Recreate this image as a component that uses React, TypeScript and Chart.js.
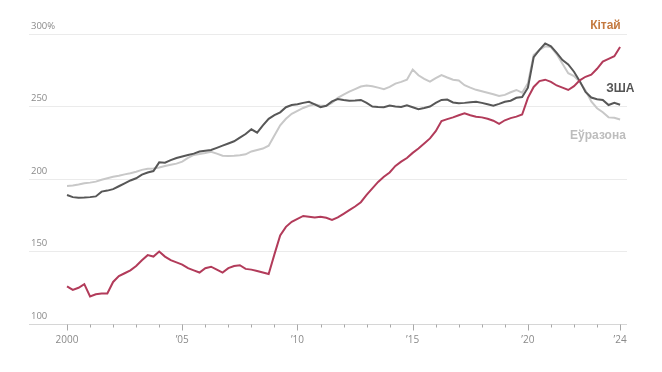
import React, { useEffect, useRef } from 'react';
import { Chart, registerables } from 'chart.js';

Chart.register(...registerables);

// Quarterly values, 2000 Q1 .. 2024 Q1 (debt, % of GDP)
const START_YEAR = 2000;
const QUARTER_STEP = 0.25;

const chinaDebt = [
  126, 123.5, 125, 127.5,
  119, 120.5, 121, 121,
  129, 133, 135, 137,
  140, 144, 147.5, 146.5,
  150, 146.5, 144, 142.5,
  141, 138.5, 137, 135.5,
  138.5, 139.5, 137.5, 135.5,
  138.5, 140, 140.5, 138,
  137.5, 136.5, 135.5, 134.5,
  148, 161, 167, 170.5,
  172.5, 174.5, 174, 173.5,
  174, 173.3, 171.8, 173.5,
  176, 178.5, 181, 184,
  189, 193.5, 198, 201.5,
  204.5, 209, 212, 214.5,
  218, 221, 224.5, 228,
  233, 240, 241.3, 242.5,
  244, 245.3, 244, 243,
  242.5, 241.5, 240.2, 238,
  240.5, 242, 243, 244.5,
  256, 263.5, 267.5, 268.5,
  267, 264.5, 263, 261.4,
  264, 268, 270.5, 272,
  276, 281, 282.8, 284.7,
  291,
];

const usDebt = [
  189, 187.5, 187, 187.2,
  187.5, 188, 191.3, 192,
  193, 195, 197, 199,
  200.5, 203, 204.5, 205.5,
  211.5, 211.2, 213, 214.5,
  215.5, 216.5, 217.5, 219,
  219.5, 220, 221.5, 223,
  224.5, 226, 228.5, 231,
  234.3, 232, 237, 241.5,
  244, 246, 249.5, 251,
  251.5, 252.5, 253.3, 251.5,
  249.5, 250.5, 253.5, 255.2,
  254.5, 254, 254.2, 254.5,
  252.5, 250, 249.7, 249.5,
  250.7, 250, 249.6, 250.8,
  249.5, 248.2, 249, 250,
  252.5, 254.5, 254.8, 252.8,
  252.2, 252.5, 253, 253.2,
  252.5, 251.5, 250.5, 251.8,
  253.3, 254, 256, 256.5,
  263, 284, 289, 293.5,
  291.5, 287, 282, 279,
  274, 267.5, 260, 256.2,
  255, 254.5, 251, 252.5,
  251.2,
];

const euroDebt = [
  195.2, 195.5, 196.2, 197,
  197.5, 198.2, 199.5, 200.5,
  201.5, 202.3, 203.2, 204,
  205, 206.3, 207, 207.3,
  208, 209, 209.8, 210.6,
  212, 214.5, 216.6, 217.3,
  218, 218.8, 217.5, 216,
  215.9, 216, 216.4, 217,
  219, 220, 221, 223,
  230, 237, 241.5, 245,
  247, 249, 250.5, 251.5,
  250.5, 250.5, 252.5, 256,
  258.2, 260.2, 262, 263.8,
  264.5, 264, 263, 262,
  263.5, 265.8, 267, 268.5,
  275.5, 271.5, 269, 267.1,
  269.5, 271.7, 270, 268.5,
  268, 264.7, 263, 261.5,
  260.5, 259.5, 258.5, 257.3,
  258, 259.8, 261.4, 259.5,
  266, 285.5, 289, 291.5,
  291, 286, 279.5, 273,
  271, 267, 261, 253.5,
  248.8, 246, 242.5, 242.2,
  241,
];

const yearTicks = [
  2000, 2001, 2002, 2003, 2004, 2005, 2006, 2007, 2008, 2009, 2010, 2011, 2012,
  2013, 2014, 2015, 2016, 2017, 2018, 2019, 2020, 2021, 2022, 2023, 2024,
];
const labeledYears = [2000, 2005, 2010, 2015, 2020, 2024];
const yearLabels = ['2000', '\u201905', '\u201910', '\u201915', '\u201920', '\u201924'];
const valueTicks = [100, 150, 200, 250, 300];

const seriesNames = ['Кітай', 'ЗША', 'Еўразона'];
const seriesColors = ['#b23b5a', '#575757', '#c8c8c8'];
const labelColors = ['#c47a40', '#555555', '#bdbdbd'];
const labelYears = [2022.7, 2023.4, 2021.83];
const labelValues = [306, 262.5, 230];

const toPoints = (arr: number[]) =>
  arr.map((v, i) => ({ x: START_YEAR + i * QUARTER_STEP, y: v }));

const decorPlugin = {
  id: 'decor',
  afterDraw(chart: any) {
    const { ctx, chartArea, scales } = chart;
    const xs = scales.x;
    const ys = scales.y;
    ctx.save();
    ctx.strokeStyle = '#d6d6d6';
    ctx.lineWidth = 1;
    const by = Math.round(chartArea.bottom) + 0.5;
    ctx.beginPath();
    ctx.moveTo(chartArea.left, by);
    ctx.lineTo(chartArea.right, by);
    ctx.stroke();
    ctx.strokeStyle = '#a8a8a8';
    yearTicks.forEach((yr) => {
      const px = Math.round(xs.getPixelForValue(yr)) + 0.5;
      const major = labeledYears.includes(yr);
      ctx.beginPath();
      ctx.moveTo(px, by);
      ctx.lineTo(px, by + (major ? 6 : 3));
      ctx.stroke();
    });
    ctx.font = 'bold 12px "Liberation Sans", Arial, sans-serif';
    ctx.textAlign = 'left';
    ctx.textBaseline = 'middle';
    seriesNames.forEach((name, i) => {
      ctx.fillStyle = labelColors[i];
      ctx.fillText(name, xs.getPixelForValue(labelYears[i]), ys.getPixelForValue(labelValues[i]));
    });
    ctx.restore();
  },
};

export default function App() {
  const canvasRef = useRef<HTMLCanvasElement | null>(null);

  useEffect(() => {
    if (!canvasRef.current) return;
    Chart.defaults.font.family = '"Open Sans", "Liberation Sans", sans-serif';
    const series = [chinaDebt, usDebt, euroDebt];
    const chart = new Chart(canvasRef.current, {
      type: 'line',
      data: {
        datasets: series.map((arr, i) => ({
          label: seriesNames[i],
          data: toPoints(arr),
          borderColor: seriesColors[i],
          backgroundColor: seriesColors[i],
          borderWidth: 2,
          pointRadius: 0,
          tension: 0,
          order: i,
        })),
      },
      options: {
        responsive: false,
        animation: false,
        layout: { padding: { left: 25, right: 35, top: 34, bottom: 16 } },
        plugins: { legend: { display: false }, tooltip: { enabled: false } },
        scales: {
          x: {
            type: 'linear',
            min: 1998.35,
            max: 2024.3,
            afterBuildTicks: (s: any) => {
              s.ticks = labeledYears.map((v) => ({ value: v }));
            },
            grid: { display: false, drawTicks: false },
            border: { display: false },
            ticks: {
              autoSkip: false,
              maxRotation: 0,
              padding: 10,
              color: '#8a8a8a',
              font: { size: 10 },
              callback: (v: any) => {
                const idx = labeledYears.indexOf(Number(v));
                return idx >= 0 ? yearLabels[idx] : '';
              },
            },
          },
          y: {
            type: 'linear',
            min: 100,
            max: 300,
            afterBuildTicks: (s: any) => {
              s.ticks = valueTicks.map((v) => ({ value: v }));
            },
            grid: {
              drawTicks: false,
              lineWidth: 1,
              color: (c: any) => (c.tick && c.tick.value === 100 ? 'rgba(0,0,0,0)' : '#ebebeb'),
            },
            border: { display: false },
            ticks: {
              mirror: true,
              padding: 2,
              labelOffset: -8,
              color: '#8a8a8a',
              font: { size: 9.5 },
              callback: (v: any) => (Number(v) === 300 ? '300%' : String(v)),
            },
          },
        },
      },
      plugins: [decorPlugin],
    });
    return () => chart.destroy();
  }, []);

  return (
    <div style={{ position: 'fixed', left: 0, top: 0, width: 662, height: 372, background: '#fff' }}>
      <canvas ref={canvasRef} width={662} height={372} style={{ display: 'block' }} />
    </div>
  );
}
